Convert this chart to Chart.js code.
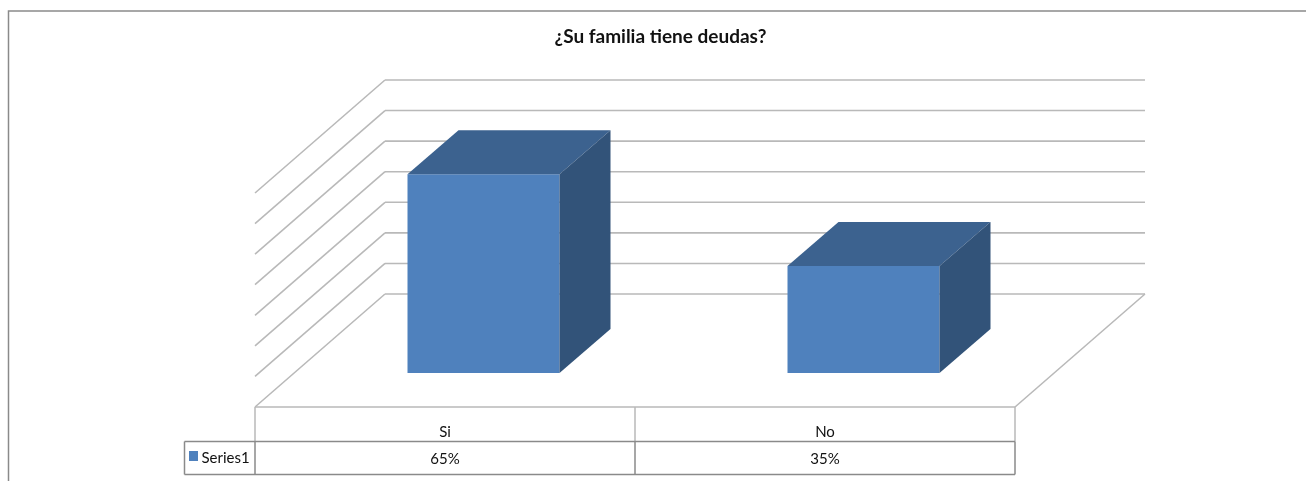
<!DOCTYPE html>
<html>
<head>
<meta charset="utf-8">
<title>¿Su familia tiene deudas?</title>
<script src="https://cdn.jsdelivr.net/npm/chart.js@4"></script>
<style>
  html, body { margin: 0; padding: 0; background: #fff; overflow: hidden; }
  canvas { display: block; }
</style>
</head>
<body>
<canvas id="deudasChart" width="1306" height="481"></canvas>
<script>
const chartTitle = '¿Su familia tiene deudas?';
const categories = ['Si', 'No'];
const seriesName = 'Series1';
const seriesValues = [65, 35];

const FRONT = '#4f81bd', TOP = '#3c628f', SIDE = '#325379';
const GRID = '#b9b9b9', FRAME = '#8a8a8a';
const FONT = 'Lato, "Open Sans", sans-serif';

// how far the bar depth, the back wall and the floor front sit from the bar plane
const barDepth = { x: 51, y: -44 };
const wall = { x: 91.5, y: -79 };
const front = { x: -38.5, y: 34 };

function line(ctx, x1, y1, x2, y2) {
    ctx.beginPath();
    ctx.moveTo(x1, y1);
    ctx.lineTo(x2, y2);
    ctx.stroke();
}

function poly(ctx, pts, color) {
    ctx.fillStyle = color;
    ctx.beginPath();
    pts.forEach((p, i) => i ? ctx.lineTo(p[0], p[1]) : ctx.moveTo(p[0], p[1]));
    ctx.closePath();
    ctx.fill();
}

const walls3d = {
    id: 'walls3d',
    beforeDatasetsDraw(chart) {
        const { ctx, chartArea, scales } = chart;
        const base = scales.y.getPixelForValue(0);
        const left = chartArea.left + wall.x, right = chartArea.right + wall.x;
        ctx.save();
        ctx.strokeStyle = GRID;
        ctx.lineWidth = 1.6;
        scales.y.ticks.forEach(t => {
            const y = scales.y.getPixelForValue(t.value) + wall.y;
            line(ctx, left, y, right, y);
            line(ctx, left, y, chartArea.left + front.x, y + front.y - wall.y);
        });
        // floor
        const fy = base + front.y, fl = chartArea.left + front.x, fr = chartArea.right + front.x;
        line(ctx, right, base + wall.y, fr, fy);
        line(ctx, fl, fy, fr, fy);
        ctx.restore();
    }
};

const bars3d = {
    id: 'bars3d',
    afterDatasetsDraw(chart) {
        const { ctx } = chart;
        chart.getDatasetMeta(0).data.forEach(bar => {
            const l = bar.x - bar.width / 2, r = bar.x + bar.width / 2;
            const dx = barDepth.x, dy = barDepth.y;
            poly(ctx, [[l, bar.y], [r, bar.y], [r + dx, bar.y + dy], [l + dx, bar.y + dy]], TOP);
            poly(ctx, [[r, bar.y], [r + dx, bar.y + dy], [r + dx, bar.base + dy], [r, bar.base]], SIDE);
        });
    }
};

const frameAndTable = {
    id: 'frameAndTable',
    afterDraw(chart) {
        const { ctx, chartArea, scales } = chart;
        const colW = (chartArea.right - chartArea.left) / categories.length;
        const x0 = chartArea.left + front.x;
        const y0 = scales.y.getPixelForValue(0) + front.y;
        const rowMid = 441.5, rowEnd = 474.5, keyLeft = 184.5;
        ctx.save();

        // outer frame, cut by the right and bottom of the picture
        ctx.strokeStyle = FRAME;
        ctx.lineWidth = 1.5;
        ctx.beginPath();
        ctx.moveTo(8.5, 481);
        ctx.lineTo(8.5, 11);
        ctx.lineTo(1306, 11);
        ctx.stroke();

        // data table
        ctx.lineWidth = 1.5;
        ctx.strokeStyle = GRID;
        for (let i = 0; i <= categories.length; i++) {
            line(ctx, x0 + i * colW, y0, x0 + i * colW, rowMid);
        }
        ctx.strokeStyle = FRAME;
        line(ctx, keyLeft, rowMid, x0 + colW * categories.length, rowMid);
        line(ctx, keyLeft, rowEnd, x0 + colW * categories.length, rowEnd);
        line(ctx, keyLeft, rowMid, keyLeft, rowEnd);
        for (let i = 0; i <= categories.length; i++) {
            line(ctx, x0 + i * colW, rowMid, x0 + i * colW, rowEnd);
        }

        // texts
        ctx.fillStyle = '#111';
        ctx.textBaseline = 'middle';
        ctx.textAlign = 'center';
        ctx.font = 'bold 19px ' + FONT;
        ctx.fillText(chartTitle, 660.5, 37);
        ctx.font = '15px ' + FONT;
        categories.forEach((c, i) => {
            ctx.fillText(c, x0 + (i + 0.5) * colW, 432.5);
            ctx.fillText(seriesValues[i] + '%', x0 + (i + 0.5) * colW, 459.5);
        });
        ctx.textAlign = 'left';
        ctx.fillText(seriesName, 201.5, 458);
        ctx.fillStyle = FRONT;
        ctx.fillRect(189, 451, 9, 10);
        ctx.restore();
    }
};

new Chart(document.getElementById('deudasChart'), {
    type: 'bar',
    data: {
        labels: categories,
        datasets: [{
            label: seriesName,
            data: seriesValues,
            backgroundColor: FRONT,
            categoryPercentage: 0.4,
            barPercentage: 1
        }]
    },
    options: {
        responsive: false,
        animation: false,
        layout: { padding: { left: 293.5, right: 252.5, top: 159, bottom: 108 } },
        plugins: { legend: { display: false }, title: { display: false }, tooltip: { enabled: false } },
        scales: {
            x: { display: false },
            y: { display: false, min: 0, max: 70, ticks: { stepSize: 10 } }
        }
    },
    plugins: [walls3d, bars3d, frameAndTable]
});
</script>
</body>
</html>
